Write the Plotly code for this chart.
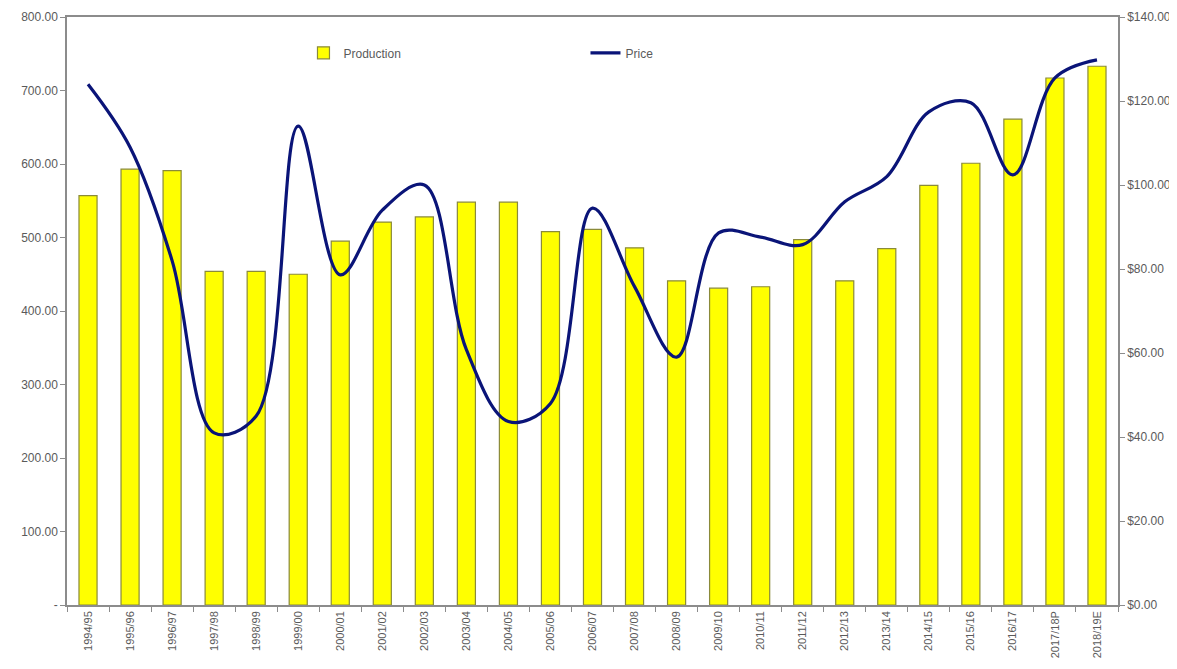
import plotly.graph_objects as go

categories = ["1994/95", "1995/96", "1996/97", "1997/98", "1998/99", "1999/00",
              "2000/01", "2001/02", "2002/03", "2003/04", "2004/05", "2005/06",
              "2006/07", "2007/08", "2008/09", "2009/10", "2010/11", "2011/12",
              "2012/13", "2013/14", "2014/15", "2015/16", "2016/17", "2017/18P",
              "2018/19E"]
production = [557, 593, 591, 454, 454, 450, 495, 521, 528, 548, 548, 508,
              511, 486, 441, 431, 433, 497, 441, 485, 571, 601, 661, 717, 733]
price = [124, 109, 82, 41, 45, 114, 78.6, 94, 100, 60.8, 43.7, 48,
         94.5, 75.8, 59, 88.6, 87.6, 85.8, 96, 102, 117.4, 119.6, 102.4, 125.5, 129.8]

left_vals = [0, 100, 200, 300, 400, 500, 600, 700, 800]
left_text = ["-", "100.00", "200.00", "300.00", "400.00", "500.00", "600.00", "700.00", "800.00"]
right_vals = [0, 20, 40, 60, 80, 100, 120, 140]
right_text = ["$0.00", "$20.00", "$40.00", "$60.00", "$80.00", "$100.00", "$120.00", "$140.00"]

font_col = "#5a5a5a"
axis_col = "#8c8c8c"

fig = go.Figure()
fig.add_trace(go.Bar(
    x=categories, y=production, name="Production",
    marker=dict(color="#FFFF00", line=dict(color="#8a8a3a", width=1.2)),
    yaxis="y"))
fig.add_trace(go.Scatter(
    x=categories, y=price, name="Price", mode="lines",
    line=dict(color="#0a1478", width=3.2, shape="spline", smoothing=1.0),
    yaxis="y2"))

fig.update_layout(
    width=1169, height=653,
    margin=dict(l=59, r=59, t=9, b=56, autoexpand=False),
    paper_bgcolor="white", plot_bgcolor="white",
    font=dict(family="Liberation Sans, Arial, sans-serif", size=12, color=font_col),
    bargap=0.57,
    showlegend=True,
    legend=dict(orientation="h", x=0.225, y=0.939, xanchor="left", yanchor="middle",
                entrywidth=237, entrywidthmode="pixels",
                font=dict(size=12, color=font_col), bgcolor="rgba(0,0,0,0)",
                traceorder="normal"),
    xaxis=dict(type="category", showline=True, linecolor=axis_col, linewidth=1.5,
               mirror=True, ticks="outside", tickson="boundaries", ticklen=5,
               tickcolor=axis_col, tickangle=-90, tickfont=dict(size=11, color=font_col),
               showgrid=False, automargin=False),
    yaxis=dict(range=[0, 800], tickvals=left_vals, ticktext=left_text,
               showline=True, linecolor=axis_col, linewidth=1.5, ticks="outside",
               ticklen=5, tickcolor=axis_col, showgrid=False, zeroline=False,
               tickfont=dict(size=12, color=font_col), automargin=False),
    yaxis2=dict(range=[0, 140], tickvals=right_vals, ticktext=right_text,
                overlaying="y", side="right", showline=True, linecolor=axis_col,
                linewidth=1.5, ticks="outside", ticklen=5, tickcolor=axis_col,
                showgrid=False, zeroline=False, tickfont=dict(size=12, color=font_col),
                automargin=False),
)

fig.write_html("out.html")
